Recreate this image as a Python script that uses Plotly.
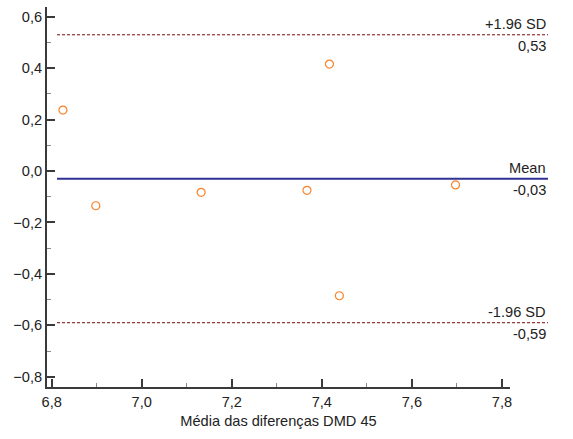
import plotly.graph_objects as go

# Data
mean_values = [6.825, 6.898, 7.132, 7.367, 7.417, 7.439, 7.697]
differences = [0.237, -0.135, -0.083, -0.075, 0.416, -0.485, -0.054]
mean_diff = -0.03
upper_loa = 0.53
lower_loa = -0.59
ref_labels = ["+1.96 SD", "Mean", "-1.96 SD"]
ref_values = [upper_loa, mean_diff, lower_loa]
ref_value_text = ["0,53", "-0,03", "-0,59"]
x_title = "Média das diferenças DMD 45"

FONT = "Liberation Sans, Arial, sans-serif"
FS = 14.6
AXIS_COLOR = "#3a3a3a"

fig = go.Figure()
fig.add_trace(go.Scatter(
    x=mean_values, y=differences, mode="markers",
    marker=dict(symbol="circle-open", size=8, color="#f7822a",
                line=dict(width=1.2, color="#f7822a")),
    showlegend=False, hoverinfo="x+y",
))

line_x0, line_x1 = 0.0216, 1.082
styles = [
    dict(color="#7a0a0a", width=1, dash="3px,2px"),
    dict(color="#2e3192", width=2.2, dash="solid"),
    dict(color="#7a0a0a", width=1, dash="3px,2px"),
]
for lbl, val, vtxt, st in zip(ref_labels, ref_values, ref_value_text, styles):
    fig.add_shape(type="line", xref="paper", yref="y", x0=line_x0, x1=line_x1,
                  y0=val, y1=val, line=st)
    fig.add_annotation(xref="paper", yref="y", x=line_x1, y=val, text=lbl,
                       xanchor="right", yanchor="bottom", showarrow=False,
                       yshift=1, font=dict(family=FONT, size=FS, color="#222222"))
    fig.add_annotation(xref="paper", yref="y", x=line_x1, y=val, text=vtxt,
                       xanchor="right", yanchor="top", showarrow=False,
                       yshift=-1, font=dict(family=FONT, size=FS, color="#222222"))

fig.update_layout(
    width=573, height=439,
    margin=dict(l=47, r=63, t=7, b=52),
    plot_bgcolor="white", paper_bgcolor="white",
    separators=",.",
    font=dict(family=FONT, size=FS, color="#222222"),
    xaxis=dict(
        range=[6.7896, 7.818], tickvals=[6.8, 7.0, 7.2, 7.4, 7.6, 7.8],
        tickformat=".1f", showgrid=False, zeroline=False,
        showline=True, linecolor=AXIS_COLOR, linewidth=2,
        ticks="inside", ticklen=8, tickwidth=2, tickcolor=AXIS_COLOR,
        minor=dict(dtick=0.1, tick0=6.8, ticks="inside", ticklen=4,
                   tickwidth=1, tickcolor="#888888", showgrid=False),
        title=dict(text=x_title, font=dict(size=FS), standoff=7),
        tickfont=dict(size=FS),
    ),
    yaxis=dict(
        range=[-0.84, 0.638], tickvals=[-0.8, -0.6, -0.4, -0.2, 0.0, 0.2, 0.4, 0.6],
        tickformat=".1f", showgrid=False, zeroline=False,
        showline=True, linecolor=AXIS_COLOR, linewidth=2,
        ticks="inside", ticklen=8, tickwidth=2, tickcolor=AXIS_COLOR,
        minor=dict(dtick=0.1, tick0=0.0, ticks="inside", ticklen=4,
                   tickwidth=1, tickcolor="#888888", showgrid=False),
        tickfont=dict(size=FS),
    ),
)

fig.write_html("out.html")
